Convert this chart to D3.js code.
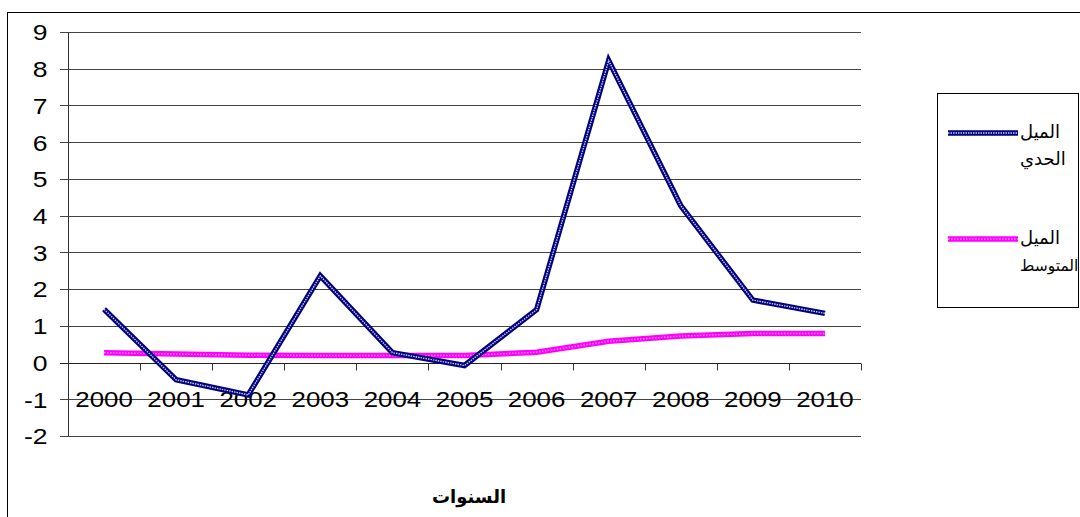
<!DOCTYPE html>
<html><head><meta charset="utf-8">
<script src="https://cdn.jsdelivr.net/npm/d3@7"></script>
<style>
html,body{margin:0;padding:0;background:#fff;overflow:hidden;}
svg{display:block;}
</style></head>
<body>
<svg id="chart" width="1080" height="517"></svg>
<script>
const years = ["2000","2001","2002","2003","2004","2005","2006","2007","2008","2009","2010"];
const marginal = [1.45, -0.47, -0.88, 2.36, 0.27, -0.08, 1.44, 8.22, 4.27, 1.70, 1.34];
const average = [0.27, 0.23, 0.20, 0.19, 0.19, 0.19, 0.28, 0.58, 0.72, 0.79, 0.79];
const yTicks = [-2,-1,0,1,2,3,4,5,6,7,8,9];
const seriesNames = [["الميل","الحدي"],["الميل","المتوسط"]];
const xTitle = "السنوات";

const svg = d3.select("#chart");
const FONT = "'Liberation Sans', Arial, sans-serif";
const AR = "'DejaVu Sans', 'Noto Sans', sans-serif";

// outer chart border
svg.append("rect").attr("x",7.5).attr("y",12.5).attr("width",1100).attr("height",600)
  .attr("fill","none").attr("stroke","#000").attr("stroke-width",1);

const x = d3.scaleBand().domain(years).range([68, 861]);
const y = d3.scaleLinear().domain([-2, 9]).range([436, 32]);

// gridlines
svg.append("g").selectAll("line").data(yTicks).join("line")
  .attr("x1",60).attr("x2",861)
  .attr("y1",d=>Math.round(y(d))+0.5).attr("y2",d=>Math.round(y(d))+0.5)
  .attr("stroke",d=>d===0?"#222":"#444").attr("stroke-width",1);

// y axis
const yAxis = svg.append("g").attr("transform","translate(68.5,0)")
  .call(d3.axisLeft(y).tickValues(yTicks).tickSize(0).tickPadding(0).tickFormat(d=>String(d)));
yAxis.select(".domain").attr("stroke","#333").attr("d",`M0,${y(9)}V${y(-2)}`);
yAxis.selectAll("text").attr("x",0).attr("font-family",FONT).attr("font-size",22.5).attr("fill","#000")
  .attr("text-anchor","end").attr("dy","0.35em")
  .attr("transform","translate(-21,0) scale(1.18,1)");

// x axis at zero: ticks at category boundaries
const y0 = Math.round(y(0))+0.5;
const bounds = years.map(d=>x(d)).concat([x.range()[1]]);
svg.append("g").selectAll("line").data(bounds.slice(1)).join("line")
  .attr("x1",d=>Math.round(d)+0.5).attr("x2",d=>Math.round(d)+0.5)
  .attr("y1",y0).attr("y2",y0+7).attr("stroke","#333");
svg.append("g").selectAll("text").data(years).join("text")
  .attr("transform",d=>`translate(${x(d)+x.bandwidth()/2},${399}) scale(1.15,1)`)
  .attr("text-anchor","middle").attr("dy","0.35em")
  .attr("font-family",FONT).attr("font-size",22.5).attr("fill","#000")
  .text(d=>d);

// lines
const line = d3.line().x((d,i)=>x(years[i])+x.bandwidth()/2).y(d=>y(d));
function drawSeries(vals, main, inner, dash){
  svg.append("path").attr("d",line(vals)).attr("fill","none")
    .attr("stroke",main).attr("stroke-width",5.5).attr("stroke-linejoin","miter");
  svg.append("path").attr("d",line(vals)).attr("fill","none")
    .attr("stroke",inner).attr("stroke-width",1.4).attr("stroke-dasharray",dash).attr("opacity",0.8);
}
drawSeries(average, "#ff00ff", "#ffaaff", "1.5,1.5");
drawSeries(marginal, "#000080", "#ffffff", "1.5,1");

// x title
svg.append("text").attr("x",469).attr("y",497).attr("dy","0.35em").attr("text-anchor","middle")
  .attr("font-family",AR).attr("font-size",18).attr("font-weight","bold").attr("fill","#000")
  .attr("direction","rtl").text(xTitle);

// legend
const lg = svg.append("g");
lg.append("rect").attr("x",937.5).attr("y",93.5).attr("width",141).attr("height",214)
  .attr("fill","#fff").attr("stroke","#000");
const legendStyles = [["#000080","#ffffff","1.5,1"],["#ff00ff","#ffaaff","1.5,1.5"]];
const legendY = [133, 239];
legendStyles.forEach((s,i)=>{
  const ly = legendY[i];
  lg.append("line").attr("x1",948).attr("x2",1018).attr("y1",ly).attr("y2",ly)
    .attr("stroke",s[0]).attr("stroke-width",5.5);
  lg.append("line").attr("x1",948).attr("x2",1018).attr("y1",ly).attr("y2",ly)
    .attr("stroke",s[1]).attr("stroke-width",1.4).attr("stroke-dasharray",s[2]).attr("opacity",0.8);
  seriesNames[i].forEach((t,j)=>{
    const long = t.length > 5;
    lg.append("text").attr("x",1020).attr("y",ly+j*27).attr("dy","0.3em")
      .attr("text-anchor","start").attr("font-family",AR).attr("font-size",long?15.5:18).attr("fill","#000")
      .text(t);
  });
});
</script>
</body></html>
